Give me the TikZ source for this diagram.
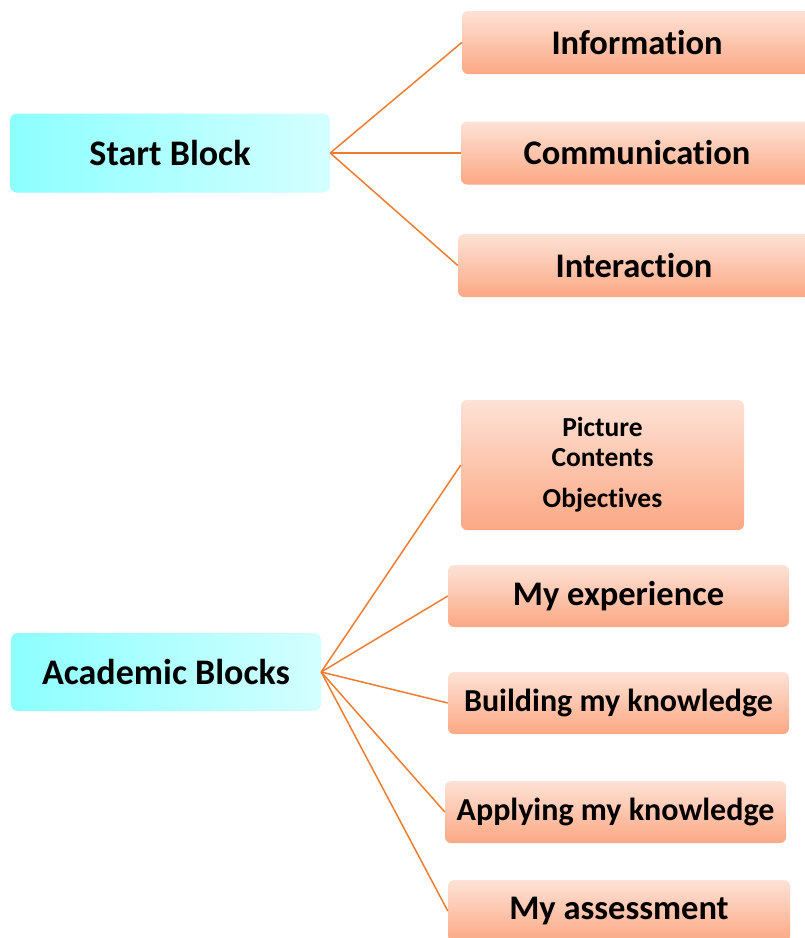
\documentclass[tikz,border=0pt]{standalone}
\usepackage{fontspec}
\setmainfont{Carlito}[Ligatures=NoCommon]
\usetikzlibrary{positioning}
\definecolor{cyanL}{RGB}{140,255,255}
\definecolor{cyanR}{RGB}{212,255,255}
\definecolor{peachT}{RGB}{253,226,214}
\definecolor{peachB}{RGB}{252,168,132}
\definecolor{linkorange}{RGB}{237,125,49}

\begin{document}
\begin{tikzpicture}[x=1pt,y=-1pt,
        block/.style={rounded corners=7pt,left color=cyanL,right color=cyanR,draw=none,
          inner sep=0pt,font=\fontsize{36}{42}\selectfont\bfseries},
        item/.style={rounded corners=6pt,top color=peachT,bottom color=peachB,draw=none,
          inner sep=0pt,minimum height=63pt,font=\fontsize{34.5}{40}\selectfont\bfseries},
        link/.style={draw=linkorange,line width=1.5pt},
        ]
        \clip (0,0) rectangle (805,938);
        % start block and its branches
        \node[block,minimum width=320pt,minimum height=79pt] (start) at (170,153) {Start Block};
        \node[item,minimum width=350pt] (info) at (637,42.5) {Information};
        \node[item,minimum width=352pt] (comm) at (637,153) {Communication};
        \node[item,minimum width=352pt] (inter) at (634,265.5) {Interaction};
        \foreach \n in {info,comm,inter}
          \draw[link] (start.east) -- (\n.west);
        % academic blocks and its branches
        \node[block,minimum width=310pt,minimum height=78pt] (academic) at (166,672) {Academic Blocks};
        \node[item,minimum width=283pt,minimum height=130pt,align=center,
          font=\fontsize{27.5}{30}\selectfont\bfseries] (picture) at (602.5,465)
          {Picture\\Contents\\[11pt]Objectives};
        \node[item,minimum width=341pt,minimum height=62pt] (exper) at (618.5,596) {My experience};
        \node[item,minimum width=341pt,minimum height=62pt,font=\fontsize{32}{40}\selectfont\bfseries]
          (build) at (618.5,703) {Building my knowledge};
        \node[item,minimum width=341pt,minimum height=62pt,font=\fontsize{32}{40}\selectfont\bfseries]
          (apply) at (615.5,812) {Applying my knowledge};
        \node[item,minimum width=342pt,minimum height=62pt] (assess) at (619,911) {My assessment};
        \foreach \n in {picture,exper,build,apply,assess}
          \draw[link] (academic.east) -- (\n.west);
      \end{tikzpicture}
\end{document}
